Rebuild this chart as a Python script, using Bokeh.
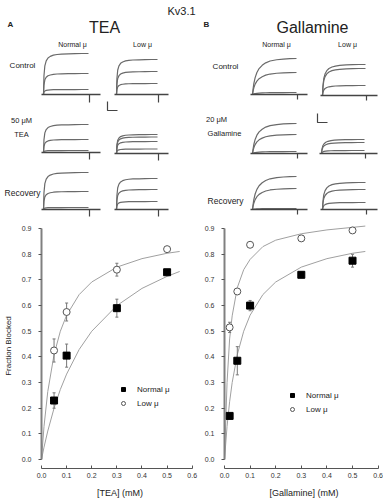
from bokeh.plotting import figure
from bokeh.layouts import column, row
from bokeh.models import Range1d, FixedTicker, PrintfTickFormatter, Legend, LegendItem
from bokeh.core.properties import value
from bokeh.embed import file_html
from bokeh.resources import INLINE

FONT = "Liberation Sans"

# ---------------- data: dose-response ----------------
tea_conc = [0.05, 0.1, 0.3, 0.5]
tea_normal = [0.23, 0.405, 0.59, 0.73]
tea_normal_err = [0.03, 0.045, 0.035, 0.01]
tea_low = [0.425, 0.575, 0.74, 0.82]
tea_low_err = [0.045, 0.035, 0.025, 0.006]

gal_conc = [0.02, 0.05, 0.1, 0.3, 0.5]
gal_normal = [0.17, 0.385, 0.60, 0.72, 0.775]
gal_normal_err = [0.01, 0.055, 0.02, 0.01, 0.025]
gal_low = [0.515, 0.655, 0.837, 0.862, 0.893]
gal_low_err = [0.02, 0.01, 0.01, 0.01, 0.006]

# fitted curves
tea_fit_x = [0, 0.01, 0.025, 0.05, 0.075, 0.1, 0.15, 0.2, 0.3, 0.4, 0.5, 0.55]
tea_fit_normal = [0, 0.048, 0.111, 0.2, 0.273, 0.333, 0.429, 0.5, 0.6, 0.667, 0.714, 0.733]
tea_fit_low = [0, 0.129, 0.265, 0.409, 0.5, 0.5625, 0.643, 0.692, 0.75, 0.783, 0.804, 0.811]
gal_fit_x = [0, 0.01, 0.02, 0.03, 0.05, 0.075, 0.1, 0.15, 0.2, 0.3, 0.4, 0.5, 0.55]
gal_fit_normal = [0, 0.129, 0.225, 0.3, 0.409, 0.5, 0.5625, 0.643, 0.692, 0.75, 0.783, 0.804, 0.811]
gal_fit_low = [0, 0.3, 0.47, 0.56, 0.67, 0.74, 0.78, 0.83, 0.855, 0.88, 0.895, 0.905, 0.91]

x_ticks = [0, 0.1, 0.2, 0.3, 0.4, 0.5, 0.6]
y_ticks = [0, 0.1, 0.2, 0.3, 0.4, 0.5, 0.6, 0.7, 0.8, 0.9]

# ---------------- data: current traces (arbitrary units) ----------------
trace_t = [0, 0.01, 0.03, 0.06, 0.1, 0.15, 0.22, 0.3, 0.4, 0.55, 0.7, 0.85, 1.0]
shape_fast = [0, 0.45, 0.7, 0.82, 0.89, 0.93, 0.96, 0.975, 0.985, 0.99, 0.995, 1, 1]
shape_mid = [0, 0.3, 0.55, 0.7, 0.8, 0.87, 0.92, 0.95, 0.97, 0.985, 0.995, 1, 1]
shape_slow = [0, 0.12, 0.3, 0.47, 0.61, 0.72, 0.81, 0.88, 0.93, 0.965, 0.985, 0.995, 1]

tea_ctrl_normal = [41, 21, 5]
tea_ctrl_low = [35, 23, 11]
tea_drug_normal = [28, 13, 2]
tea_drug_low = [19, 16.5, 12, 4.5]
tea_rec_normal = [37, 18, 2]
tea_rec_low = [31, 20, 8]
gal_ctrl_normal = [36, 22, 2]
gal_ctrl_low = [31, 27, 10]
gal_drug_normal = [30, 19, 2]
gal_drug_low = [14, 11, 3]
gal_rec_normal = [33, 21, 1]
gal_rec_low = [27, 20, 7]

# ---------------- top figure (traces + labels) ----------------
top = figure(width=383, height=218, x_range=Range1d(0, 383), y_range=Range1d(218, 0),
             output_backend="svg", toolbar_location=None, min_border=0)
top.axis.visible = False
top.grid.visible = False
top.outline_line_color = None

TRACE_COL = "#6a6a6a"


def panel(x0, base, length, end, amps, shape, tail):
    for a in amps:
        xs = [x0 + t * length for t in trace_t]
        ys = [base - a * s for s in shape]
        top.line(xs, ys, line_color=TRACE_COL, line_width=1.2)
    top.line([x0 - 2, end], [base, base], line_color="#444", line_width=1.3)
    top.line([x0 + length + 1, x0 + length + 1], [base, base + tail], line_color="#444", line_width=1.2)


# TEA panels
panel(43, 94, 45, 100, tea_ctrl_normal, shape_fast, 8)
panel(116, 94, 41, 168, tea_ctrl_low, shape_fast, 8)
panel(43, 152, 45, 100, tea_drug_normal, shape_fast, 7)
panel(116, 153, 41, 168, tea_drug_low, shape_fast, 7)
panel(43, 209, 45, 100, tea_rec_normal, shape_fast, 7)
panel(116, 209, 41, 168, tea_rec_low, shape_fast, 7)
# Gallamine panels
panel(252, 94, 44, 307, gal_ctrl_normal, shape_slow, 5)
panel(322, 95, 43, 377, gal_ctrl_low, shape_mid, 5)
panel(252, 153, 44, 307, gal_drug_normal, shape_slow, 5)
panel(321, 153, 43, 377, gal_drug_low, shape_mid, 5)
panel(252, 209, 44, 307, gal_rec_normal, shape_slow, 5)
panel(322, 209, 43, 377, gal_rec_low, shape_mid, 5)

# scale bars
top.line([107, 107, 117], [101, 110, 110], line_color="#444", line_width=1.2)
top.line([317, 317, 327], [113, 122, 122], line_color="#444", line_width=1.2)


def label(x, y, txt, size, align="center", bold=False, color="#222"):
    top.text([x], [y], text=[txt], text_font=value(FONT), text_font_size=size,
             text_align=align, text_baseline="alphabetic", text_color=color,
             text_font_style="bold" if bold else "normal")


label(181, 10, "Kv3.1", "11px")
label(7, 24, "A", "8px", align="left", bold=True)
label(104, 27, "TEA", "16px")
label(203, 24, "B", "8px", align="left", bold=True)
label(312, 27, "Gallamine", "16px")
label(72, 44, "Normal μ", "7px")
label(142, 44, "Low μ", "7px")
label(276, 44, "Normal μ", "7px")
label(347, 44, "Low μ", "7px")
label(22, 65, "Control", "8px")
label(225, 66, "Control", "8px")
label(21, 120, "50 μM", "7.5px")
label(21, 134, "TEA", "7.5px")
label(22, 192, "Recovery", "8.5px")
label(216, 119, "20 μM", "7.5px")
label(224, 133, "Gallamine", "7.5px")
label(225, 200, "Recovery", "8.5px")


# ---------------- bottom plots ----------------
def dose_plot(width, left, xmax, xlabel, ylabel, conc, nvals, nerr, lvals, lerr,
              fx, fn, fl, leg_x, leg_y):
    p = figure(width=width, height=282, x_range=Range1d(0, xmax), y_range=Range1d(-0.035, 0.92),
               output_backend="svg", toolbar_location=None,
               min_border_left=left, min_border_right=0, min_border_top=5, min_border_bottom=31)
    p.grid.visible = False
    p.outline_line_color = None

    p.line(fx, fn, line_color="#a0a0a0", line_width=1)
    p.line(fx, fl, line_color="#a0a0a0", line_width=1)

    for vals, errs in ((nvals, nerr), (lvals, lerr)):
        lo = [v - e for v, e in zip(vals, errs)]
        hi = [v + e for v, e in zip(vals, errs)]
        p.segment(conc, lo, conc, hi, line_color="#777", line_width=1)
        p.segment([c - 0.006 for c in conc], lo, [c + 0.006 for c in conc], lo, line_color="#777")
        p.segment([c - 0.006 for c in conc], hi, [c + 0.006 for c in conc], hi, line_color="#777")

    rn = p.scatter(conc, nvals, marker="square", size=7, fill_color="black", line_color="black")
    rl = p.scatter(conc, lvals, marker="circle", size=7, fill_color="white", line_color="#555", line_width=1)

    leg = Legend(items=[LegendItem(label="Normal μ", renderers=[rn]),
                        LegendItem(label="Low μ", renderers=[rl])],
                 location=(leg_x, leg_y), orientation="vertical",
                 label_text_font=FONT, label_text_font_size="8px", label_text_color="#222",
                 glyph_width=10, glyph_height=10, label_height=10, label_standoff=9,
                 spacing=4, padding=0, margin=0, border_line_color=None,
                 background_fill_alpha=0)
    p.add_layout(leg, "center")

    xa = p.xaxis[0]
    xa.ticker = FixedTicker(ticks=x_ticks)
    xa.formatter = PrintfTickFormatter(format="%.1f")
    xa.bounds = (0, 0.6)
    xa.axis_label = xlabel
    xa.axis_label_text_font = FONT
    xa.axis_label_text_font_size = "9px"
    xa.axis_label_text_font_style = "normal"
    xa.axis_label_text_color = "#222"
    xa.axis_label_standoff = 7
    xa.major_label_text_font = FONT
    xa.major_label_text_font_size = "7px"
    xa.major_label_text_color = "#333"
    xa.major_label_standoff = 4
    xa.major_tick_in = 3
    xa.major_tick_out = 0
    xa.minor_tick_line_color = None
    xa.axis_line_color = "#555"
    xa.major_tick_line_color = "#555"

    ya = p.yaxis[0]
    ya.ticker = FixedTicker(ticks=y_ticks)
    ya.formatter = PrintfTickFormatter(format="%.1f")
    ya.bounds = (0, 0.9)
    ya.axis_label = ylabel
    ya.axis_label_text_font = FONT
    ya.axis_label_text_font_size = "8px"
    ya.axis_label_text_font_style = "normal"
    ya.axis_label_text_color = "#222"
    ya.axis_label_standoff = 6
    ya.major_label_text_font = FONT
    ya.major_label_text_font_size = "7px"
    ya.major_label_text_color = "#333"
    ya.major_label_standoff = 7
    ya.major_tick_in = 0
    ya.major_tick_out = 3
    ya.minor_tick_line_color = None
    ya.axis_line_color = "#808080"
    ya.axis_line_width = 2
    ya.major_tick_line_color = "#555"
    return p


left_plot = dose_plot(198, 38, 0.625, "[TEA] (mM)", "Fraction Blocked",
                      tea_conc, tea_normal, tea_normal_err, tea_low, tea_low_err,
                      tea_fit_x, tea_fit_normal, tea_fit_low, 77, 60)
right_plot = dose_plot(185, 26, 0.621, "[Gallamine] (mM)", None,
                       gal_conc, gal_normal, gal_normal_err, gal_low, gal_low_err,
                       gal_fit_x, gal_fit_normal, gal_fit_low, 63, 54)

layout = column(top, row(left_plot, right_plot, spacing=0), spacing=0)

open("out.html", "w").write(file_html(layout, INLINE))
